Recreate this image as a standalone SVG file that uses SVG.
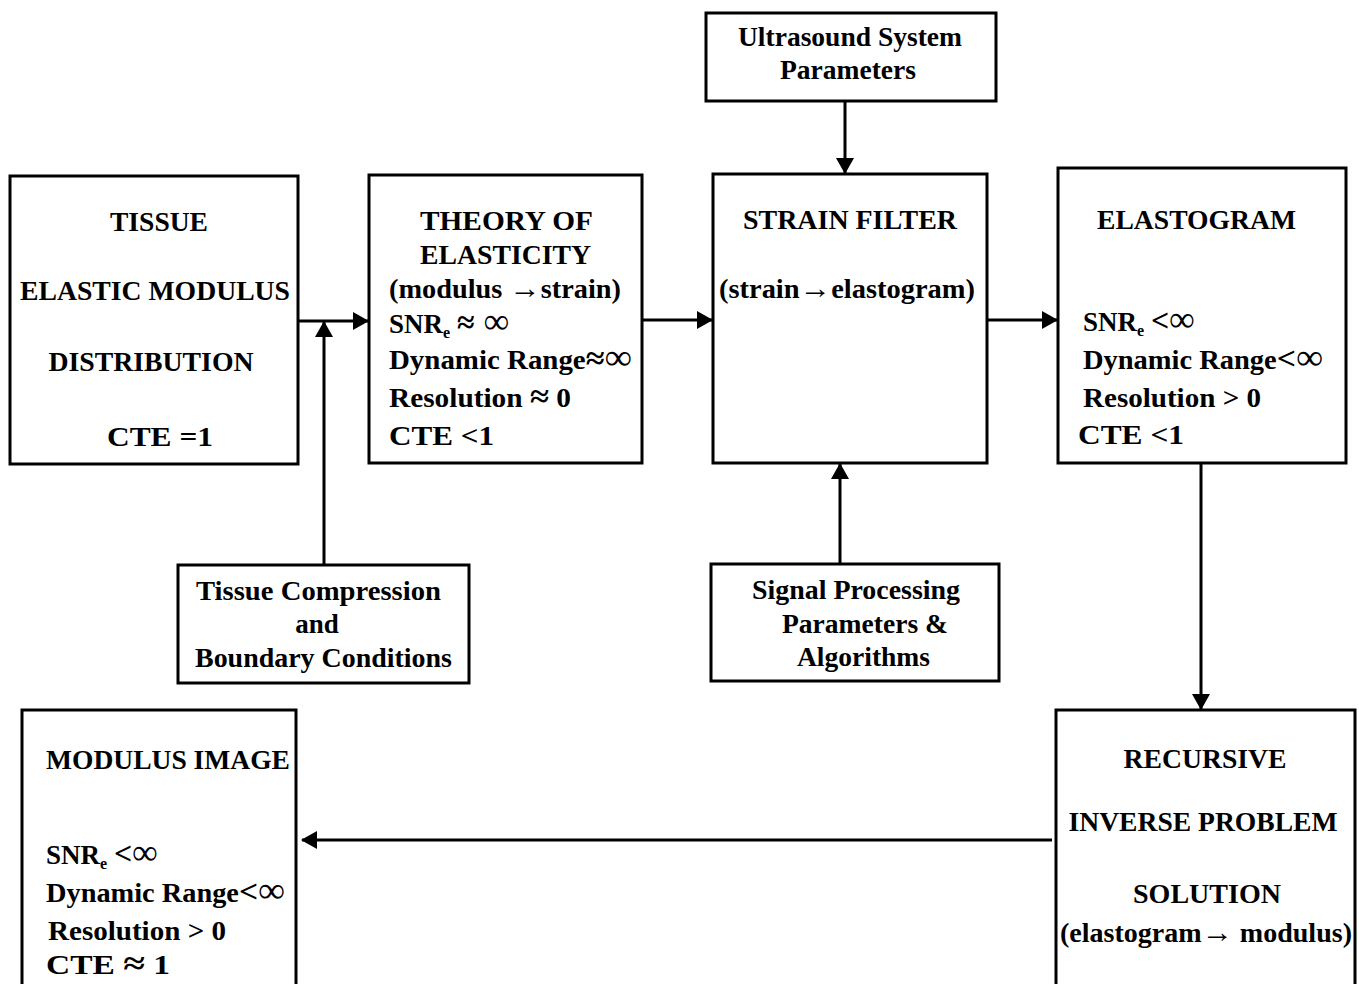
<svg xmlns="http://www.w3.org/2000/svg" width="1359" height="984" viewBox="0 0 1359 984">
<style>
.box{fill:#fff;stroke:#000;stroke-width:3}
.t{font-family:"Liberation Serif","Times New Roman",serif;font-weight:bold;font-size:27px;fill:#000}
.c{stroke:#000;stroke-width:3;fill:none}
.sub{font-size:16px}
.inf{font-size:36px;font-weight:normal}
.op{font-size:32px}
.ar{font-size:30px;font-weight:normal}
</style>
<defs>
<marker id="ah" viewBox="0 0 16 18" refX="15" refY="9" markerWidth="16" markerHeight="18" markerUnits="userSpaceOnUse" orient="auto">
<path d="M0,0 L16,9 L0,18 Z" fill="#000"/>
</marker>
</defs>
<rect width="1359" height="984" fill="#fff"/>
<g id="connectors">
<line class="c" x1="298" y1="321" x2="368" y2="321" marker-end="url(#ah)"/>
<line class="c" x1="324" y1="565" x2="324" y2="322" marker-end="url(#ah)"/>
<line class="c" x1="642" y1="320" x2="712" y2="320" marker-end="url(#ah)"/>
<line class="c" x1="845" y1="101" x2="845" y2="173" marker-end="url(#ah)"/>
<line class="c" x1="840" y1="564" x2="840" y2="464" marker-end="url(#ah)"/>
<line class="c" x1="987" y1="320" x2="1057" y2="320" marker-end="url(#ah)"/>
<line class="c" x1="1201" y1="463" x2="1201" y2="709" marker-end="url(#ah)"/>
<line class="c" x1="1052" y1="840" x2="302" y2="840" marker-end="url(#ah)"/>
</g>
<g id="tissue">
<rect class="box" x="10" y="176" width="288" height="288"/>
<text class="t" x="159" y="231" text-anchor="middle" textLength="98" lengthAdjust="spacingAndGlyphs">TISSUE</text>
<text class="t" x="155" y="300" text-anchor="middle" textLength="270" lengthAdjust="spacingAndGlyphs">ELASTIC MODULUS</text>
<text class="t" x="151" y="371" text-anchor="middle" textLength="205" lengthAdjust="spacingAndGlyphs">DISTRIBUTION</text>
<text class="t" x="107" y="446" textLength="106" lengthAdjust="spacingAndGlyphs">CTE  =1</text>
</g>
<g id="theory">
<rect class="box" x="369" y="175" width="273" height="288"/>
<text class="t" x="420" y="230" textLength="173" lengthAdjust="spacingAndGlyphs">THEORY  OF</text>
<text class="t" x="420" y="264" textLength="171" lengthAdjust="spacingAndGlyphs">ELASTICITY</text>
<text class="t" x="389" y="298" textLength="232" lengthAdjust="spacingAndGlyphs">(modulus <tspan class="ar">→</tspan>strain)</text>
<text class="t" x="389" y="333">SNR<tspan class="sub" dy="5">e</tspan><tspan dy="-5">  </tspan><tspan class="op">≈</tspan><tspan class="inf"> ∞</tspan></text>
<text class="t" x="389" y="369" textLength="243" lengthAdjust="spacingAndGlyphs">Dynamic Range<tspan class="op">≈</tspan><tspan class="inf">∞</tspan></text>
<text class="t" x="389" y="407" textLength="182" lengthAdjust="spacingAndGlyphs">Resolution  <tspan class="op">≈</tspan>  0</text>
<text class="t" x="389" y="445" textLength="105" lengthAdjust="spacingAndGlyphs">CTE  &lt;1</text>
</g>
<g id="ultrasound">
<rect class="box" x="706" y="13" width="290" height="88"/>
<text class="t" x="850" y="46" text-anchor="middle" textLength="224" lengthAdjust="spacingAndGlyphs">Ultrasound System</text>
<text class="t" x="848" y="79" text-anchor="middle" textLength="136" lengthAdjust="spacingAndGlyphs">Parameters</text>
</g>
<g id="strainfilter">
<rect class="box" x="713" y="174" width="274" height="289"/>
<text class="t" x="850" y="229" text-anchor="middle" textLength="214" lengthAdjust="spacingAndGlyphs">STRAIN FILTER</text>
<text class="t" x="847" y="298" text-anchor="middle" textLength="256" lengthAdjust="spacingAndGlyphs">(strain<tspan class="ar">→</tspan>elastogram)</text>
</g>
<g id="elastogram">
<rect class="box" x="1058" y="168" width="288" height="295"/>
<text class="t" x="1097" y="229" textLength="199" lengthAdjust="spacingAndGlyphs">ELASTOGRAM</text>
<text class="t" x="1083" y="331">SNR<tspan class="sub" dy="5">e</tspan><tspan dy="-5"> </tspan><tspan class="op">&lt;</tspan><tspan class="inf">∞</tspan></text>
<text class="t" x="1083" y="369" textLength="240" lengthAdjust="spacingAndGlyphs">Dynamic Range<tspan class="op">&lt;</tspan><tspan class="inf">∞</tspan></text>
<text class="t" x="1083" y="407" textLength="178" lengthAdjust="spacingAndGlyphs">Resolution &gt;  0</text>
<text class="t" x="1078" y="444" textLength="106" lengthAdjust="spacingAndGlyphs">CTE  &lt;1</text>
</g>
<g id="compression">
<rect class="box" x="178" y="565" width="291" height="118"/>
<text class="t" x="196" y="600" textLength="245" lengthAdjust="spacingAndGlyphs">Tissue  Compression</text>
<text class="t" x="317" y="633" text-anchor="middle">and</text>
<text class="t" x="195" y="667" textLength="257" lengthAdjust="spacingAndGlyphs">Boundary Conditions</text>
</g>
<g id="signalprocessing">
<rect class="box" x="711" y="564" width="288" height="117"/>
<text class="t" x="752" y="599" textLength="208" lengthAdjust="spacingAndGlyphs">Signal Processing</text>
<text class="t" x="782" y="633" textLength="166" lengthAdjust="spacingAndGlyphs">Parameters &amp;</text>
<text class="t" x="797" y="666" textLength="133" lengthAdjust="spacingAndGlyphs">Algorithms</text>
</g>
<g id="modulusimage">
<rect class="box" x="22" y="710" width="274" height="290"/>
<text class="t" x="46" y="769" textLength="244" lengthAdjust="spacingAndGlyphs">MODULUS IMAGE</text>
<text class="t" x="46" y="864">SNR<tspan class="sub" dy="5">e</tspan><tspan dy="-5"> </tspan><tspan class="op">&lt;</tspan><tspan class="inf">∞</tspan></text>
<text class="t" x="46" y="902" textLength="239" lengthAdjust="spacingAndGlyphs">Dynamic Range<tspan class="op">&lt;</tspan><tspan class="inf">∞</tspan></text>
<text class="t" x="48" y="940" textLength="178" lengthAdjust="spacingAndGlyphs">Resolution &gt;  0</text>
<text class="t" x="46" y="974" textLength="124" lengthAdjust="spacingAndGlyphs">CTE   <tspan class="op">≈</tspan> 1</text>
</g>
<g id="recursive">
<rect class="box" x="1056" y="710" width="299" height="290"/>
<text class="t" x="1205" y="768" text-anchor="middle" textLength="163" lengthAdjust="spacingAndGlyphs">RECURSIVE</text>
<text class="t" x="1203" y="831" text-anchor="middle" textLength="269" lengthAdjust="spacingAndGlyphs">INVERSE PROBLEM</text>
<text class="t" x="1207" y="903" text-anchor="middle" textLength="148" lengthAdjust="spacingAndGlyphs">SOLUTION</text>
<text class="t" x="1206" y="942" text-anchor="middle" textLength="292" lengthAdjust="spacingAndGlyphs">(elastogram<tspan class="ar">→</tspan> modulus)</text>
</g>
</svg>
